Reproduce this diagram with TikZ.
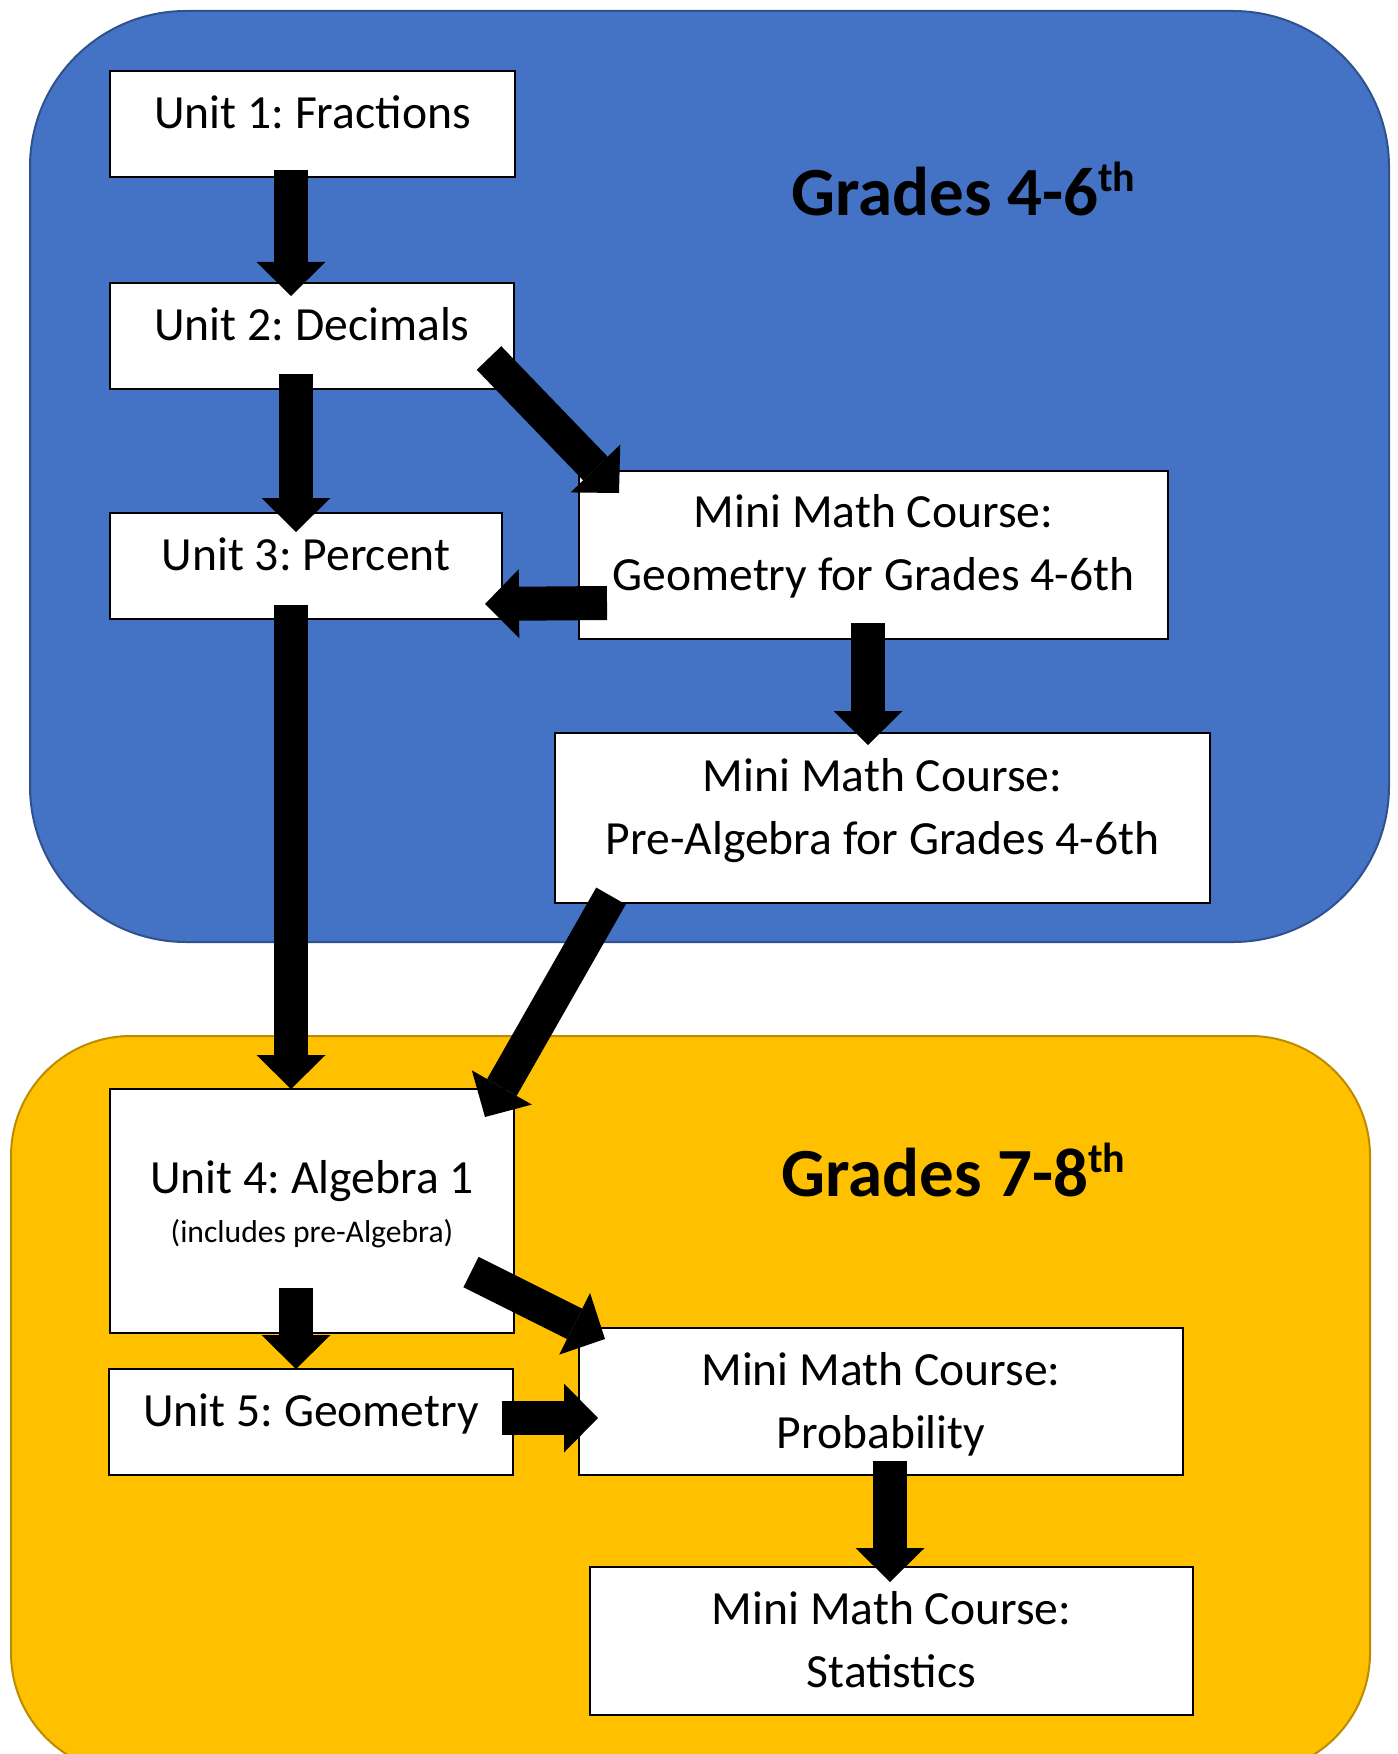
\documentclass[tikz,border=0pt]{standalone}
\usepackage{fontspec}
\setmainfont{Carlito}
\frenchspacing
\usepackage{tikz}
\usetikzlibrary{arrows.meta, calc}
\definecolor{gradeblue}{HTML}{4472C4}
\definecolor{gradeblueline}{HTML}{2F528F}
\definecolor{gradegold}{HTML}{FFC000}
\definecolor{gradegoldline}{HTML}{BC8C00}
\tikzset{
	coursebox/.style={draw=black, line width=1pt, fill=white, inner sep=0pt,
			align=center, font=\fontsize{23.8pt}{31.5pt}\selectfont}
}
\tikzset{
	blockarrow/.style={line width=17pt, -{Triangle[length=17pt, width=34.5pt, line width=0pt]}}
}
\tikzset{
	gradelabel/.style={anchor=base west, inner sep=0pt, font=\fontsize{34.5pt}{40pt}\selectfont\bfseries}
}
\newcommand{\gradesup}[1]{\raisebox{12pt}{\fontsize{21pt}{21pt}\selectfont #1}}

\begin{document}
\begin{tikzpicture}[x=0.5pt, y=-0.5pt]
			\useasboundingbox (0,0) rectangle (1397,1754);

			\draw[gradeblueline, fill=gradeblue, line width=1pt, rounded corners=78pt] (30,11) rectangle (1389,942);
			\draw[gradegoldline, fill=gradegold, line width=1pt, rounded corners=60pt] (11,1036) rectangle (1370,1773);

			\node[gradelabel] (g46) at (791,216) {Grades 4-6\gradesup{th}};
			\node[gradelabel] (g78) at (781,1196) {Grades 7-8\gradesup{th}};

			\begin{scope}
				\node[coursebox, minimum width=202.5pt, text height=29pt, text depth=24pt] (u1) at (312.5,124) {Unit 1: Fractions};
				\node[coursebox, minimum width=202pt, text height=29pt, text depth=24pt] (u2) at (312,336) {Unit 2: Decimals};
				\node[coursebox, minimum width=196pt, text height=28.5pt, text depth=24.5pt] (u3) at (306,566) {Unit 3: Percent};
				\node[coursebox, minimum width=294.5pt, text height=59.5pt, text depth=24.5pt] (geo) at (873.5,555) {Mini Math Course:\\Geometry for Grades 4-6th};
				\node[coursebox, minimum width=327.5pt, text height=60.5pt, text depth=24.5pt] (pre) at (882.5,818) {Mini Math Course:\\Pre-Algebra for Grades 4-6th};
				\node[coursebox, minimum width=202pt, text height=76.5pt, text depth=45.5pt] (u4) at (312,1211) {Unit 4: Algebra 1\\[-7pt]{\fontsize{15.8pt}{19pt}\selectfont (includes pre-Algebra)}};
				\node[coursebox, minimum width=202pt, text height=28.5pt, text depth=24.5pt] (u5) at (311,1422) {Unit 5: Geometry};
				\node[coursebox, minimum width=302pt, text height=60pt, text depth=13.5pt] (prob) at (881,1401.5) {Mini Math Course:\\Probability};
				\node[coursebox, minimum width=301.5pt, text height=60pt, text depth=14pt] (stat) at (891.5,1641) {Mini Math Course:\\Statistics};
			\end{scope}

			\begin{scope}
				\draw[blockarrow] ($(u1.south)+(-21.5,-8)$) -- ($(u2.north)+(-21,14)$);
				\draw[blockarrow] ($(u2.south)+(-16,-16)$) -- ($(u3.north)+(-10,20)$);
				\draw[blockarrow] ($(u2.east)+(-26,22)$) -- ($(geo.north west)+(41,23)$);
				\draw[blockarrow] ($(geo.west)+(29,48)$) -- ($(u3.east)+(-18,38)$);
				\draw[blockarrow] ($(geo.south)+(-5.5,-17)$) -- ($(pre.north)+(-14.5,13)$);
				\draw[blockarrow] ($(u3.south)+(-15,-15)$) -- ($(u4.north)+(-21,1)$);
				\draw[blockarrow] ($(pre.south west)+(57,-8)$) -- ($(u4.north east)+(-30,29)$);
				\draw[blockarrow] ($(u4.south)+(-16,-46)$) -- ($(u5.north)+(-15,1)$);
				\draw[blockarrow] ($(u4.east)+(-44,61)$) -- ($(prob.north west)+(27,12)$);
				\draw[blockarrow] ($(u5.east)+(-12,-4)$) -- ($(prob.west)+(20,16.5)$);
				\draw[blockarrow] ($(prob.south)+(9,-15)$) -- ($(stat.north)+(-1.5,16)$);
			\end{scope}

		\end{tikzpicture}
\end{document}
